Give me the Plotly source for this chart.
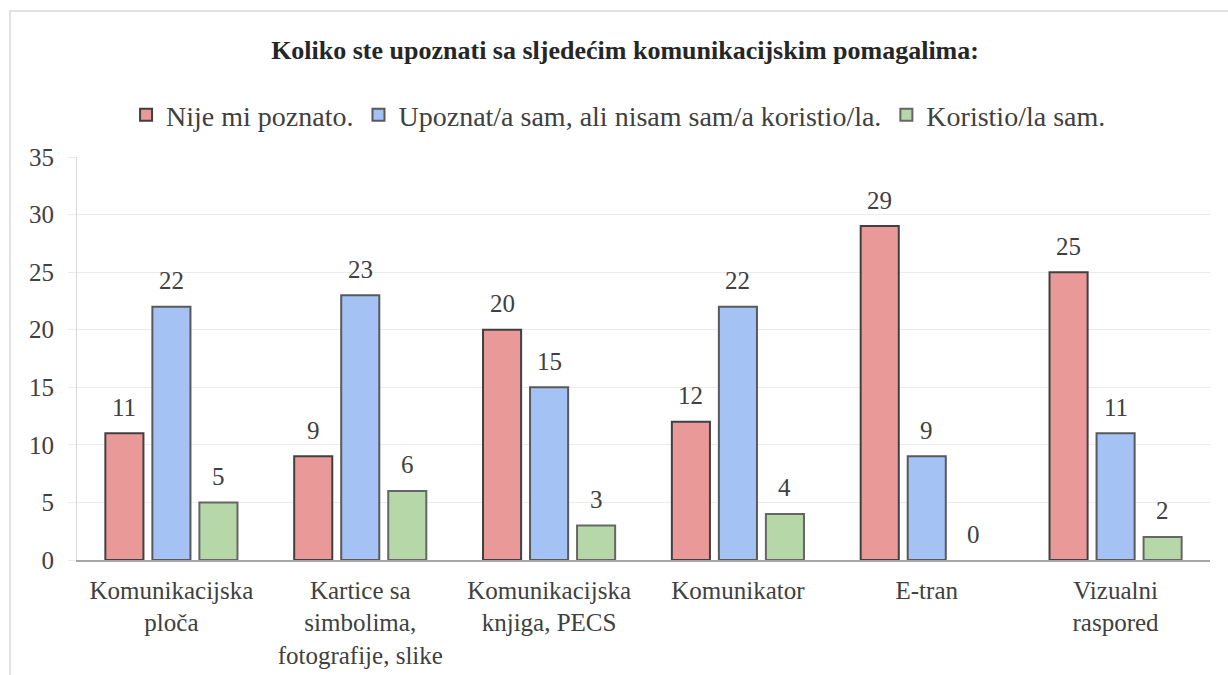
import plotly.graph_objects as go

categories = ["Komunikacijska<br>ploča", "Kartice sa<br>simbolima,<br>fotografije, slike",
              "Komunikacijska<br>knjiga, PECS", "Komunikator", "E-tran", "Vizualni<br>raspored"]
series_names = ["Nije mi poznato.", "Upoznat/a sam, ali nisam sam/a koristio/la.", "Koristio/la sam."]
nije = [11, 9, 20, 12, 29, 25]
upoznat = [22, 23, 15, 22, 9, 11]
koristio = [5, 6, 3, 4, 0, 2]
colors = ["#EA9999", "#A4C2F4", "#B6D7A8"]
edge_colors = ["#404040", "#595959", "#666666"]
y_ticks = [0, 5, 10, 15, 20, 25, 30, 35]

FONT = "Liberation Serif"
TXT = "#404040"

fig = go.Figure()
all_series = [nije, upoznat, koristio]
for name, vals, c, ec in zip(series_names, all_series, colors, edge_colors):
    fig.add_trace(go.Bar(x=categories, y=vals, name=name,
                         marker=dict(color=c, line=dict(color=ec, width=[2 if v > 0 else 0 for v in vals]))))

bargap = 0.253
slot = (1 - bargap) / 3
for k, vals in enumerate(all_series):
    for i, v in enumerate(vals):
        fig.add_annotation(x=i + (k - 1) * slot, y=v, xref="x", yref="y",
                           text=str(v), showarrow=False, yanchor="middle", yshift=26,
                           font=dict(family=FONT, size=25, color=TXT))

fig.update_layout(
    width=1228, height=675,
    margin=dict(l=77, r=18, t=157, b=115),
    paper_bgcolor="white", plot_bgcolor="white",
    barmode="group", bargap=bargap, bargroupgap=0.19,
    font=dict(family=FONT, size=25, color=TXT),
    title=dict(text="<b>Koliko ste upoznati sa sljedećim komunikacijskim pomagalima:</b>",
               x=0.509, xref="container", y=1 - 50 / 675, yref="container",
               xanchor="center", yanchor="middle",
               font=dict(family=FONT, size=26, color="#262626")),
    legend=dict(orientation="h", x=0.478, xanchor="center", y=(560 - 115) / 403, yanchor="middle",
                font=dict(family=FONT, size=28, color=TXT), itemwidth=30,
                tracegroupgap=0, bgcolor="rgba(0,0,0,0)"),
    showlegend=True,
    shapes=[dict(type="rect", xref="paper", yref="paper",
                 x0=(10 - 77) / 1133, x1=(1240 - 77) / 1133,
                 y0=(560 - 690) / 403, y1=(560 - 11) / 403,
                 line=dict(color="#d9d9d9", width=1.5), fillcolor="rgba(0,0,0,0)", layer="below")],
)
fig.update_yaxes(range=[0, 35], tickvals=y_ticks, showgrid=True, gridcolor="#ebebeb", gridwidth=1,
                 showline=True, linecolor="#d9d9d9", linewidth=1, ticks="outside", ticklen=8,
                 tickcolor="#ebebeb", zeroline=False, ticklabelstandoff=9, automargin=False,
                 tickfont=dict(family=FONT, size=25, color=TXT))
fig.update_xaxes(showline=True, linecolor="#a6a6a6", linewidth=1.5, ticks="", showgrid=False,
                 automargin=False,
                 tickfont=dict(family=FONT, size=25, color=TXT), ticklabelstandoff=7)

fig.write_html("out.html", config={"displayModeBar": False},
               post_script="document.body.style.margin='0';document.body.style.overflow='hidden';")
